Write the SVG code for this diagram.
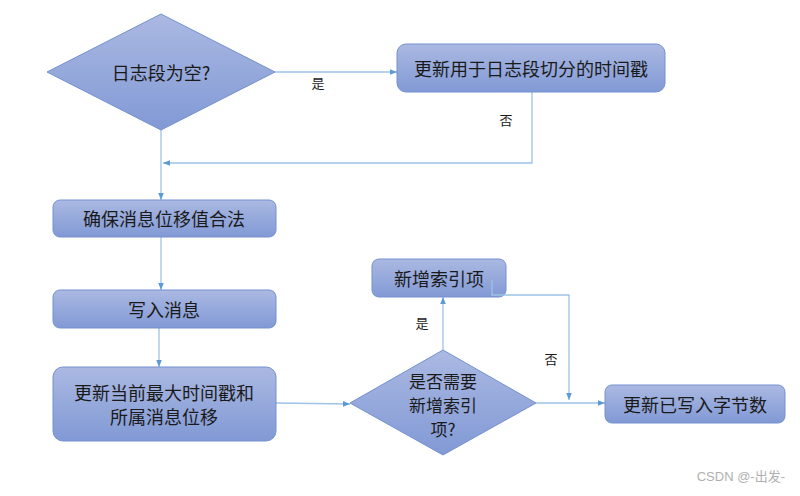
<svg xmlns="http://www.w3.org/2000/svg" width="800" height="496" viewBox="0 0 800 496">
<defs>
<linearGradient id="g" x1="0" y1="0" x2="0" y2="1">
<stop offset="0" stop-color="#abb9e2"/>
<stop offset="1" stop-color="#8199d5"/>
</linearGradient>
<marker id="ah" viewBox="0 0 10 10" refX="10" refY="5" markerWidth="7" markerHeight="7" orient="auto" markerUnits="userSpaceOnUse">
<path d="M0,1 L10,5 L0,9 Z" fill="#5b9bd5"/>
</marker>
<style>
.n{fill:url(#g);stroke:#7491d0;stroke-width:1}
.t{font-family:"Noto Sans CJK SC","Liberation Sans",sans-serif;font-size:18px;fill:#1a1a1a;text-anchor:middle;dominant-baseline:central}
.d{font-size:17px}
.l{font-family:"Noto Sans CJK SC","Liberation Sans",sans-serif;font-size:13px;fill:#1a1a1a;text-anchor:middle;dominant-baseline:central}
.c{fill:none;stroke:#9dc3e6;stroke-width:1.3}
</style>
</defs>
<rect width="800" height="496" fill="#ffffff"/>
<g id="connectors">
<line class="c" x1="275" y1="72" x2="397" y2="72" marker-end="url(#ah)"/>
<path class="c" d="M532,92 V163 H163" marker-end="url(#ah)"/>
<line class="c" x1="161" y1="130" x2="161" y2="200" marker-end="url(#ah)"/>
<line class="c" x1="161" y1="237" x2="161" y2="290" marker-end="url(#ah)"/>
<line class="c" x1="159" y1="328" x2="159" y2="367" marker-end="url(#ah)"/>
<line class="c" x1="276" y1="403" x2="350" y2="404" marker-end="url(#ah)"/>
<line class="c" x1="443" y1="350" x2="443" y2="297" marker-end="url(#ah)"/>
<path class="c" d="M536,403 H605" marker-end="url(#ah)"/>
<text class="l" x="318" y="82">是</text>
<text class="l" x="506" y="119">否</text>
<text class="l" x="422" y="322">是</text>
<text class="l" x="551" y="358">否</text>
</g>
<g id="n1">
<polygon class="n" points="47,72 161,14 275,72 161,130"/>
<text class="t" x="161" y="72">日志段为空?</text>
</g>
<g id="n2">
<rect class="n" x="397" y="44" width="268" height="48" rx="9"/>
<text class="t" x="531" y="68">更新用于日志段切分的时间戳</text>
</g>
<g id="n3">
<rect class="n" x="53" y="200" width="223" height="37" rx="7"/>
<text class="t" x="164" y="218">确保消息位移值合法</text>
</g>
<g id="n4">
<rect class="n" x="53" y="290" width="223" height="38" rx="7"/>
<text class="t" x="164" y="309">写入消息</text>
</g>
<g id="n5">
<rect class="n" x="53" y="367" width="223" height="74" rx="10"/>
<text class="t" x="164" y="392">更新当前最大时间戳和</text>
<text class="t" x="164" y="416">所属消息位移</text>
</g>
<g id="n6">
<polygon class="n" points="350,403 443,350 536,403 443,455"/>
<text class="t d" x="443" y="380">是否需要</text>
<text class="t d" x="443" y="404">新增索引</text>
<text class="t d" x="443" y="428">项?</text>
</g>
<g id="n7">
<rect class="n" x="372" y="259" width="134" height="38" rx="7"/>
<text class="t" x="439" y="278">新增索引项</text>
</g>
<path class="c" d="M492,280 V295 H569 V400" marker-end="url(#ah)"/>
<g id="n8">
<rect class="n" x="605" y="385" width="180" height="38" rx="7"/>
<text class="t" x="695" y="404">更新已写入字节数</text>
</g>
<text x="785" y="481" font-family="'Liberation Sans','Noto Sans CJK SC',sans-serif" font-size="13" fill="#b0b0b0" text-anchor="end">CSDN @-出发-</text>
</svg>
